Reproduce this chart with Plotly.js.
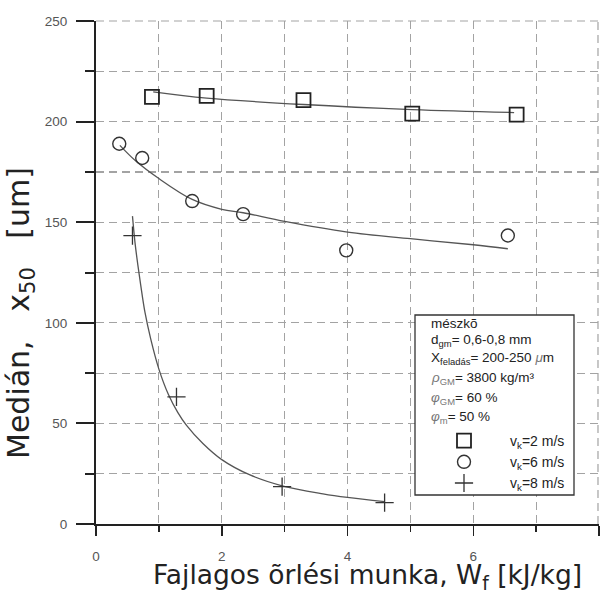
<!DOCTYPE html>
<html>
<head>
<meta charset="utf-8">
<script src="https://cdn.plot.ly/plotly-3.0.1.min.js"></script>
<style>html,body{margin:0;padding:0;background:#fff;}#chart{width:601px;height:591px;}</style>
</head>
<body>
<div id="chart"></div>
<script>
// ---- measured points ----
const sqX = [0.89, 1.76, 3.30, 5.03, 6.69];
const sqY = [212.3, 212.8, 210.7, 204.0, 203.5];
const ciX = [0.37, 0.735, 1.53, 2.34, 3.98, 6.55];
const ciY = [189.0, 181.9, 160.5, 154.0, 136.0, 143.4];
const plX = [0.58, 1.28, 2.96, 4.59];
const plY = [143.3, 63.2, 18.6, 10.6];

// ---- fitted trend curves ----
const sqFitX = [0.91, 1.76, 3.30, 5.03, 6.65];
const sqFitY = [214.8, 211.7, 208.5, 206.0, 204.5];
const ciFitX = [0.38, 0.62, 1.0, 1.53, 2.0, 2.34, 3.0, 4.0, 5.0, 6.0, 6.55];
const ciFitY = [188.2, 180.8, 171.7, 161.3, 156.4, 154.7, 150.4, 145.1, 141.8, 138.8, 136.8];
const plFitX = [0.58, 0.62, 0.66, 0.71, 0.78, 0.87, 1.0, 1.15, 1.3, 1.44, 1.7, 2.0, 2.44, 2.96, 3.61, 4.0, 4.59];
const plFitY = [153, 140, 130, 119, 105, 92, 77, 64.5, 55.5, 49, 40, 32, 24.5, 19, 15, 13.2, 11.1];

// ---- labels ----
const seriesNames = ['v<sub>k</sub>=2 m/s', 'v<sub>k</sub>=6 m/s', 'v<sub>k</sub>=8 m/s'];
const xTitle = 'Fajlagos õrlési munka, W<sub>f</sub> [kJ/kg]';
const yTitle = 'Medián,\u00a0\u00a0\u00a0x<sub>50</sub>\u00a0\u00a0\u00a0[um]';
const boxLines = [
  'mészkõ',
  'd<sub>gm</sub>= 0,6-0,8 mm',
  'X<sub>feladás</sub>= 200-250 <span style="color:#777"><i>μ</i></span>m',
  '<span style="color:#777"><i>ρ</i><sub>GM</sub></span>= 3800 kg/m³',
  '<span style="color:#777"><i>φ</i><sub>GM</sub></span>= 60 %',
  '<span style="color:#777"><i>φ</i><sub>m</sub></span>= 50 %'
];

const W = 601, H = 591, ML = 96, MR = 2, MT = 21, MB = 67;
const PW = W - ML - MR, PH = H - MT - MB;
const px = x => (x - ML) / PW;
const py = y => (H - MB - y) / PH;

const lineCol = '#555';
const fitStyle = {color: lineCol, width: 1.3, shape: 'spline', smoothing: 1};

const traces = [
  {x: sqFitX, y: sqFitY, mode: 'lines', line: fitStyle, showlegend: false, hoverinfo: 'skip'},
  {x: ciFitX, y: ciFitY, mode: 'lines', line: fitStyle, showlegend: false, hoverinfo: 'skip'},
  {x: plFitX, y: plFitY, mode: 'lines', line: fitStyle, showlegend: false, hoverinfo: 'skip'},
  {x: sqX, y: sqY, mode: 'markers', name: seriesNames[0],
   marker: {symbol: 'square-open', size: 14, color: '#222', line: {width: 1.8, color: '#222'}}},
  {x: ciX, y: ciY, mode: 'markers', name: seriesNames[1],
   marker: {symbol: 'circle-open', size: 13, color: '#333', line: {width: 1.4, color: '#333'}}},
  {x: plX, y: plY, mode: 'markers', name: seriesNames[2],
   marker: {symbol: 'cross-thin-open', size: 13, color: '#333', line: {width: 1.3, color: '#333'}}}
];

const gridCol = '#a3a3a3';
const tickFont = {family: 'Liberation Sans, Arial, sans-serif', size: 13.5, color: '#555'};

const annotations = boxLines.map((t, i) => ({
  text: t, xref: 'paper', yref: 'paper', x: px(429), y: py([323, 340, 359, 378, 398, 417][i]),
  xanchor: 'left', yanchor: 'middle', showarrow: false,
  font: {family: 'Liberation Sans, Arial, sans-serif', size: 13.5, color: '#222'}
}));
annotations.push({
  text: xTitle, xref: 'paper', yref: 'paper', x: px(367), y: py(576),
  xanchor: 'center', yanchor: 'middle', showarrow: false,
  font: {family: 'DejaVu Sans, sans-serif', size: 26.5, color: '#222'}
});
annotations.push({
  text: yTitle, xref: 'paper', yref: 'paper', x: px(20), y: py(313), textangle: -90,
  xanchor: 'center', yanchor: 'middle', showarrow: false,
  font: {family: 'DejaVu Sans, sans-serif', size: 30, color: '#222'}
});

const gridLineStyle = {color: gridCol, width: 1.2, dash: '8px,5px'};

const layout = {
  width: W, height: H,
  margin: {l: ML, r: MR, t: MT, b: MB, pad: 0},
  paper_bgcolor: '#fff', plot_bgcolor: '#fff',
  showlegend: true,
  legend: {x: px(418), xanchor: 'left', y: py(425), yanchor: 'top', bgcolor: 'rgba(0,0,0,0)',
           borderwidth: 0, itemwidth: 82, tracegroupgap: 0,
           font: {family: 'Liberation Sans, Arial, sans-serif', size: 14, color: '#222'}},
  xaxis: {
    range: [0, 8], tick0: 0, dtick: 2, ticks: 'outside', ticklen: 10, tickwidth: 1.5, tickcolor: '#222',
    showline: true, linecolor: '#222', linewidth: 1.5, zeroline: false,
    showgrid: true, gridcolor: gridCol, gridwidth: 1.2, griddash: '8px,5px',
    tickfont: tickFont, ticklabelstandoff: 9,
    minor: {dtick: 1, ticks: 'outside', ticklen: 6, tickwidth: 1.5, tickcolor: '#222',
            showgrid: true, gridcolor: gridCol, gridwidth: 1.2, griddash: '8px,5px'}
  },
  yaxis: {
    range: [0, 250], tick0: 0, dtick: 50, ticks: 'outside', ticklen: 18, tickwidth: 2, tickcolor: '#222',
    showline: true, linecolor: '#222', linewidth: 2, zeroline: false,
    showgrid: true, gridcolor: gridCol, gridwidth: 1.2, griddash: '8px,5px',
    tickfont: tickFont, ticklabelstandoff: 6,
    minor: {dtick: 25, ticks: 'outside', ticklen: 9, tickwidth: 2, tickcolor: '#222',
            showgrid: true, gridcolor: gridCol, gridwidth: 1.2, griddash: '8px,5px'}
  },
  shapes: [
    {type: 'line', xref: 'paper', yref: 'paper', x0: 0, x1: 1, y0: 1, y1: 1, line: gridLineStyle, layer: 'below'},
    {type: 'line', xref: 'paper', yref: 'paper', x0: 0.998, x1: 0.998, y0: 0, y1: 1, line: gridLineStyle, layer: 'below'},
    {type: 'rect', xref: 'paper', yref: 'paper', x0: px(415), x1: px(574), y0: py(495), y1: py(315),
     fillcolor: '#fff', line: {color: '#333', width: 1.3}, layer: 'above'}
  ],
  annotations: annotations
};

Plotly.newPlot('chart', traces, layout, {displayModeBar: false, staticPlot: true});
</script>
</body>
</html>
